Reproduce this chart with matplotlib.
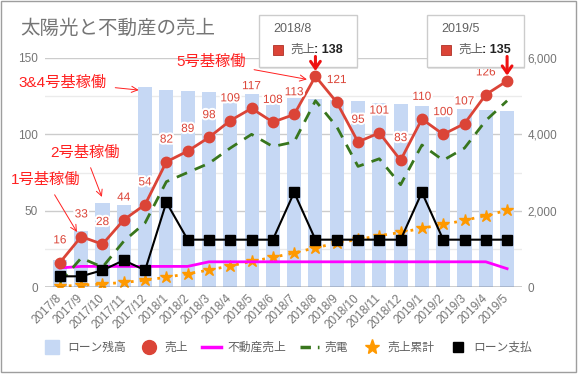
import matplotlib

matplotlib.use("Agg")

import matplotlib.pyplot as plt
import matplotlib.patheffects as pe
from matplotlib.lines import Line2D
from matplotlib.patches import Rectangle
from matplotlib.ticker import FuncFormatter

plt.rcParams["font.family"] = ["Liberation Sans", "Noto Sans CJK JP"]

# データ
months = [
    "2017/8", "2017/9", "2017/10", "2017/11", "2017/12",
    "2018/1", "2018/2", "2018/3", "2018/4", "2018/5", "2018/6",
    "2018/7", "2018/8", "2018/9", "2018/10", "2018/11", "2018/12",
    "2019/1", "2019/2", "2019/3", "2019/4", "2019/5",
]
loan_balance = [
    700, 1470, 2200, 2150, 5240, 5160, 5135, 5110, 5060, 5050, 4980,
    4950, 4925, 4900, 4870, 4820, 4795, 4740, 4715, 4665, 4640, 4610,
]
sales = [16, 33, 28, 44, 54, 82, 89, 98, 109, 117, 108,
         113, 138, 121, 95, 101, 83, 110, 100, 107, 126, 135]
realestate = [12.5, 13.5, 13.5, 13.5, 13.5, 13.5, 13.5, 16.5, 16.5, 16.5, 16.5,
              16.5, 16.5, 16.5, 16.5, 16.5, 16.5, 16.5, 16.5, 16.5, 16.5, 12]
solar = [3, 19, 13, 30, 42, 69, 75, 81, 91, 100, 92,
         95, 122, 105, 79, 84, 67, 93, 83, 91, 109, 122]
cumulative = [16, 49, 77, 121, 175, 257, 346, 444, 553, 670, 778,
              891, 1029, 1150, 1245, 1346, 1429, 1539, 1639, 1746, 1872, 2007]
loan_payment = [7, 7, 11, 17.5, 11, 55.5, 31, 31, 31, 31, 31,
                62, 31, 31, 31, 31, 31, 62, 31, 31, 31, 31]

# 注記 (テキスト, テキスト位置, 矢印先) - x はカテゴリ番号, y は左軸の値
notes = [
    ("1号基稼働", (-0.66, 70), (0.8, 36)),
    ("2号基稼働", (1.17, 88), (1.97, 59)),
    ("3&4号基稼働", (0.14, 134), (3.7, 129)),
    ("5号基稼働", (7.1, 147.5), (11.6, 136)),
]
tooltips = [("2018/8", 12), ("2019/5", 21)]

BAR_COLOR = "#c6d8f4"
RED = "#db4437"
TEXT_GRAY = "#757575"

W, H = 578, 374


def fx(px):
    return px / W


def fy(py):
    return 1 - py / H


fig = plt.figure(figsize=(W / 100, H / 100), dpi=100)
ax_r = fig.add_axes([fx(45), fy(287), fx(522) - fx(45), fy(58) - fy(287)])
ax_l = ax_r.twinx()
ax_r.yaxis.tick_right()
ax_l.yaxis.tick_left()

x = list(range(len(months)))

# 右軸: ローン残高 (棒) と 売上累計 (星)
ax_r.bar(x, loan_balance, width=0.66, color=BAR_COLOR, zorder=2)
ax_r.plot(x, cumulative, color="#ff9900", linestyle=(0, (1, 2.2)), linewidth=2,
          marker="*", markersize=9, zorder=3)

# 左軸: 線
ax_l.plot(x, realestate, color="#ff00ff", linewidth=2, zorder=3)
ax_l.plot(x, solar, color="#38761d", linewidth=2, linestyle=(0, (4, 3)), zorder=3)
ax_l.plot(x, loan_payment, color="black", linewidth=1.5, marker="s",
          markersize=6.5, zorder=4)
ax_l.plot(x, sales, color=RED, linewidth=2, marker="o", markersize=7.5, zorder=5)
ax_l.axhline(0, color="#333333", linewidth=1, zorder=2)

for xi, value in zip(x, sales):
    ax_l.annotate(
        str(value), (xi, value), xytext=(0, 16), textcoords="offset points",
        ha="center", va="center", fontsize=8.5, color=RED, zorder=6,
        path_effects=[pe.withStroke(linewidth=3, foreground="white")],
    )

# 軸設定
ax_l.set_ylim(0, 150)
ax_r.set_ylim(0, 6000)
ax_r.set_xlim(-0.7, 21.7)
ax_l.set_yticks([0, 50, 100, 150])
ax_r.set_yticks([0, 2000, 4000, 6000])
ax_r.set_yticks([1000, 3000, 5000], minor=True)
ax_r.yaxis.set_major_formatter(FuncFormatter(lambda v, _: f"{int(v):,}"))
ax_r.grid(True, which="major", axis="y", color="#cccccc", linewidth=1, zorder=0)
ax_r.grid(True, which="minor", axis="y", color="#ebebeb", linewidth=1, zorder=0)
ax_r.set_axisbelow(True)
for a in (ax_l, ax_r):
    for spine in a.spines.values():
        spine.set_visible(False)
ax_l.tick_params(axis="y", length=0, pad=5, labelsize=8.5, labelcolor=TEXT_GRAY)
ax_r.tick_params(axis="y", which="both", length=0, pad=4, labelsize=8.5,
                 labelcolor=TEXT_GRAY)
ax_r.set_xticks(x)
ax_r.set_xticklabels(months, rotation=45, ha="right", va="center",
                     rotation_mode="anchor", fontsize=8.5, color=TEXT_GRAY)
ax_r.tick_params(axis="x", length=0, pad=7)

# 稼働注記
for label, text_xy, arrow_xy in notes:
    ax_l.annotate(
        label, xy=arrow_xy, xytext=text_xy, ha="center", va="center",
        fontsize=11, color="#ff2020", annotation_clip=False, zorder=7,
        arrowprops=dict(arrowstyle="->", color="#ff2020", linewidth=0.7,
                        shrinkA=4, shrinkB=0),
    )

# ツールチップ (ax_l の上に描く)
tip_boxes = [(259, 357), (427, 524)]
ft = fig.transFigure
for (title, idx), (left, right) in zip(tooltips, tip_boxes):
    ax_l.add_artist(Rectangle((fx(left + 1), fy(69)), fx(right - left), fy(16) - fy(69),
                              transform=ft, facecolor="#e4e4e4",
                              edgecolor="none", zorder=8, clip_on=False))
    ax_l.add_artist(Rectangle((fx(left), fy(67)), fx(right - left), fy(15) - fy(67),
                              transform=ft, facecolor="white",
                              edgecolor="#cccccc", linewidth=1, zorder=9,
                              clip_on=False))
    tx = left + 14
    ax_l.text(fx(tx), fy(29), title, transform=ft, fontsize=9, color="#616161",
              va="center", zorder=10, clip_on=False)
    ax_l.add_artist(Rectangle((fx(tx), fy(55)), fx(10), fy(45) - fy(55),
                              transform=ft, facecolor=RED, edgecolor="#b03025",
                              linewidth=0.6, zorder=10, clip_on=False))
    ax_l.text(fx(tx + 17), fy(50), "売上", transform=ft, fontsize=9,
              color="#616161", va="center", zorder=10, clip_on=False)
    ax_l.text(fx(tx + 41), fy(50), f": {sales[idx]}", transform=ft, fontsize=9,
              color="#222222", fontweight="bold", va="center", zorder=10,
              clip_on=False)
    ax_l.annotate(
        "", xy=(idx, sales[idx] + 3.5), xytext=(idx, 151),
        annotation_clip=False, zorder=11,
        arrowprops=dict(arrowstyle="->,head_length=0.5,head_width=0.35",
                        color="#ee1111", linewidth=2.2, shrinkA=0, shrinkB=0),
    )

# タイトル
fig.text(fx(20), fy(29), "太陽光と不動産の売上", fontsize=14, color=TEXT_GRAY,
         va="center")

# 凡例
handles = [
    Line2D([], [], marker="s", markersize=10, color=BAR_COLOR, linestyle="none"),
    Line2D([], [], marker="o", markersize=10, color=RED, linestyle="none"),
    Line2D([], [], color="#ff00ff", linewidth=2.5),
    Line2D([], [], color="#38761d", linewidth=2.5, linestyle=(0, (3, 2))),
    Line2D([], [], marker="*", markersize=11, color="#ff9900", linestyle="none"),
    Line2D([], [], marker="s", markersize=7, color="black", linestyle="none"),
]
labels = ["ローン残高", "売上", "不動産売上", "売電", "売上累計", "ローン支払"]
fig.legend(handles, labels, loc="center", bbox_to_anchor=(fx(287), fy(348)),
           ncol=6, frameon=False, fontsize=8.5, labelcolor="#616161",
           handlelength=1.6, handletextpad=0.5, columnspacing=1.2)

# 外枠
fig.add_artist(Rectangle((fx(1), fy(372)), fx(575), fy(1) - fy(372),
                         transform=fig.transFigure, fill=False,
                         edgecolor="#9e9e9e", linewidth=1))

fig.savefig("out.png", dpi=100)
